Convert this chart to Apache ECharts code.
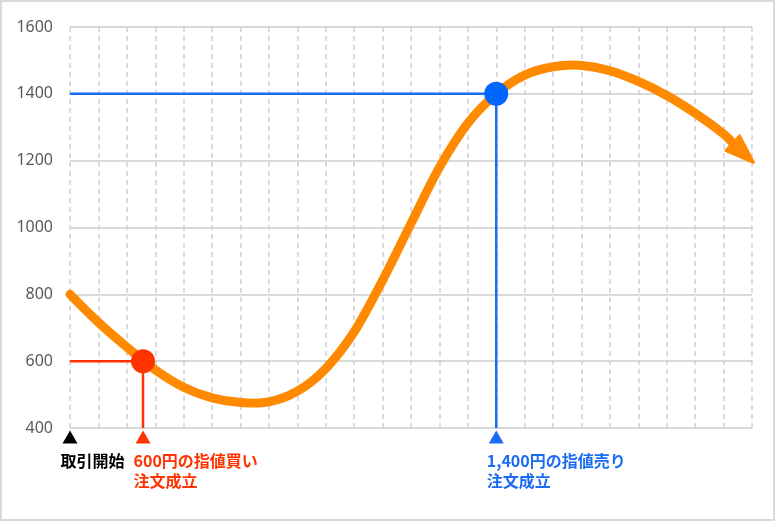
<!DOCTYPE html>
<html>
<head>
<meta charset="utf-8">
<script src="https://cdn.jsdelivr.net/npm/echarts@6/dist/echarts.min.js"></script>
<style>
html,body{margin:0;padding:0;background:#fff;}
#c{width:775px;height:521px;}
</style>
</head>
<body>
<div id="c"></div>
<script>
// ---- data ----
const yTicks = [400, 600, 800, 1000, 1200, 1400, 1600];
const curveX = [0, 1, 2, 3, 4, 5, 6, 7, 8, 9, 10, 11, 12, 13, 14, 15, 16, 17, 18, 19, 20, 21, 22, 23, 23.35];
const curveY = [800, 716, 642, 574, 522, 490, 476, 478, 510, 578, 688, 842, 1012, 1180, 1312, 1400, 1456, 1481, 1485, 1469, 1437, 1395, 1342, 1280, 1250];
const arrowTip = [24.05, 1195];
const buyX = 2.57, buyPrice = 600;
const sellX = 15, sellPrice = 1400;
const startX = 0;
const markerY = 373;
const labelStart = '取引開始';
const labelBuy = ['600円の指値買い', '注文成立'];
const labelSell = ['1,400円の指値売り', '注文成立'];

const ORANGE = '#ff8a00', RED = '#ff3300', BLUE = '#1a6cf5';

const chart = echarts.init(document.getElementById('c'));
const curve = curveX.map((x, i) => [x, curveY[i]]);
const font = '"Noto Sans CJK JP", "Noto Sans", sans-serif';

function marker(x, color, lines) {
  return {
    value: [x, markerY],
    itemStyle: { color: color, opacity: 1 },
    label: {
      show: !!lines,
      position: [-2, 20],
      align: 'left',
      verticalAlign: 'top',
      formatter: lines ? lines.join('\n') : '',
      color: color,
      fontSize: 16,
      fontWeight: 'bold',
      lineHeight: 20,
      fontFamily: font
    }
  };
}

function renderCurve(params, api) {
  if (params.dataIndex !== 0) return null;
  const pts = curve.map(p => api.coord(p));
  let d = 'M' + pts[0][0] + ',' + pts[0][1];
  for (let i = 0; i < pts.length - 1; i++) {
    const p0 = pts[i - 1] || pts[i], p1 = pts[i], p2 = pts[i + 1], p3 = pts[i + 2] || pts[i + 1];
    const c1x = p1[0] + (p2[0] - p0[0]) / 6, c1y = p1[1] + (p2[1] - p0[1]) / 6;
    const c2x = p2[0] - (p3[0] - p1[0]) / 6, c2y = p2[1] - (p3[1] - p1[1]) / 6;
    d += ' C' + c1x + ',' + c1y + ' ' + c2x + ',' + c2y + ' ' + p2[0] + ',' + p2[1];
  }
  const base = pts[pts.length - 1];
  const tip = api.coord(arrowTip);
  const dx = tip[0] - base[0], dy = tip[1] - base[1];
  const len = Math.sqrt(dx * dx + dy * dy);
  const nx = -dy / len, ny = dx / len, hw = 10;
  const back = [base[0] - dx / len * 1, base[1] - dy / len * 1];
  return {
    type: 'group',
    children: [
      { type: 'path', shape: { pathData: d },
        style: { fill: 'none', stroke: ORANGE, lineWidth: 9, lineCap: 'round', lineJoin: 'round' } },
      { type: 'polygon',
        shape: { points: [tip, [back[0] + nx * hw, back[1] + ny * hw], [back[0] - nx * hw, back[1] - ny * hw]] },
        style: { fill: ORANGE, stroke: ORANGE, lineWidth: 3, lineJoin: 'round' } }
    ]
  };
}

chart.setOption({
  animation: false,
  grid: { left: 70, right: 23, top: 27, bottom: 93 },
  xAxis: {
    type: 'value', min: 0, max: 24, interval: 1,
    axisLine: { show: false }, axisTick: { show: false }, axisLabel: { show: false },
    splitLine: { show: true, lineStyle: { color: '#d0d0d0', width: 1.5, type: [5, 4] } }
  },
  yAxis: {
    type: 'value', min: yTicks[0], max: yTicks[yTicks.length - 1], interval: 200,
    axisLine: { show: false }, axisTick: { show: false },
    axisLabel: { color: '#595959', fontSize: 16, margin: 17, fontFamily: '"Noto Sans", sans-serif',
      formatter: v => String(v) },
    splitLine: { lineStyle: { color: '#d9d9d9', width: 2 } }
  },
  graphic: [{
    type: 'rect', shape: { x: 1, y: 1, width: 773, height: 519 },
    style: { fill: 'none', stroke: '#d9d9d9', lineWidth: 2 }, z: 100
  }],
  series: [
    {
      type: 'line', data: [[startX, buyPrice], [buyX, buyPrice], [buyX, yTicks[0]]],
      showSymbol: false, lineStyle: { color: RED, width: 2.5 }, z: 2
    },
    {
      type: 'line', data: [[startX, sellPrice], [sellX, sellPrice], [sellX, yTicks[0]]],
      showSymbol: false, lineStyle: { color: BLUE, width: 2.5 }, z: 2
    },
    {
      type: 'custom', data: curve, renderItem: renderCurve, clip: false,
      encode: { x: 0, y: 1 }, z: 3
    },
    {
      type: 'scatter', data: [
        { value: [buyX, buyPrice], itemStyle: { color: RED, opacity: 1 } },
        { value: [sellX, sellPrice], itemStyle: { color: '#0066ff', opacity: 1 } }
      ],
      symbolSize: 24, z: 5
    },
    {
      type: 'scatter', clip: false, symbol: 'triangle', symbolSize: [15, 13],
      data: [
        marker(startX, '#000000', [labelStart]),
        marker(buyX, RED, labelBuy),
        marker(sellX, BLUE, labelSell)
      ],
      z: 5
    }
  ]
});
</script>
</body>
</html>
